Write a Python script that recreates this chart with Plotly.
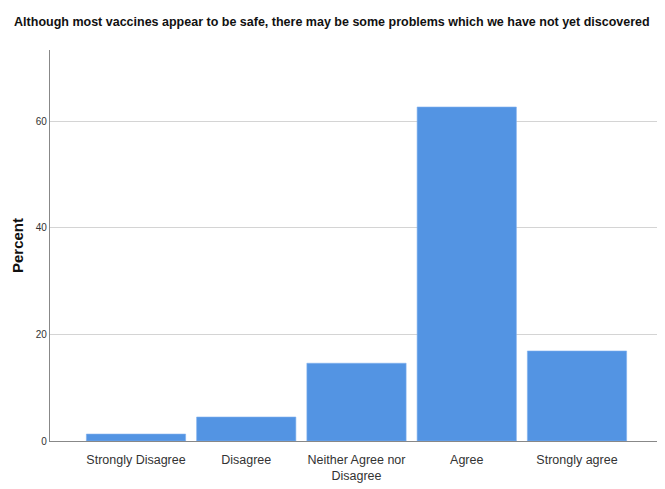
import plotly.graph_objects as go

categories = ["Strongly Disagree", "Disagree", "Neither Agree nor<br>Disagree", "Agree", "Strongly agree"]
percent = [1.3, 4.5, 14.6, 62.7, 16.9]
y_ticks = [0, 20, 40, 60]

font_main = "Liberation Sans, Arial, sans-serif"

fig = go.Figure(go.Bar(
    x=categories, y=percent,
    marker=dict(color="#5394e3", line=dict(color="#7fb0ee", width=0.6)),
    width=0.9,
))

# page body has an 8px margin, so the figure is sized/offset to compensate
fig.update_layout(
    width=657, height=481,
    paper_bgcolor="white", plot_bgcolor="white",
    margin=dict(l=42, r=2, t=42, b=48),
    title=dict(text="<b>Although most vaccines appear to be safe, there may be some problems which we have not yet discovered</b>",
               x=0.493, xanchor="center", y=0.971, yanchor="middle",
               font=dict(family=font_main, size=12.5, color="#111")),
    showlegend=False,
    bargap=0.1,
)
fig.update_xaxes(
    range=[-0.78, 4.78], showline=True, linecolor="#888", linewidth=1.2,
    ticks="", showgrid=False, tickfont=dict(family=font_main, size=12.5, color="#333"),
    ticklabelstandoff=7,
    automargin=False,
)
fig.update_yaxes(
    range=[0, 73.4], tickvals=y_ticks, showline=True, linecolor="#888", linewidth=1.2,
    showgrid=True, gridcolor="#d4d4d4", gridwidth=1.2, zeroline=False,
    ticks="", ticklen=0, tickfont=dict(family=font_main, size=10, color="#333"),
    title=dict(text="<b>Percent</b>", font=dict(family=font_main, size=15, color="#111"), standoff=8),
    automargin=False,
)

fig.write_html("out.html")
